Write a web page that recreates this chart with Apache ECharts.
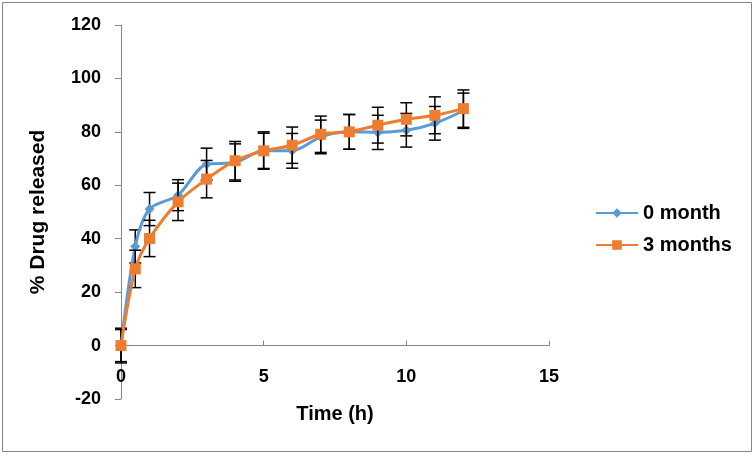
<!DOCTYPE html>
<html>
<head>
<meta charset="utf-8">
<script src="https://cdn.jsdelivr.net/npm/echarts@6/dist/echarts.min.js"></script>
<style>html,body{margin:0;padding:0;background:#fff}#c{width:755px;height:455px}</style>
</head>
<body>
<div id="c"></div>
<script>
const time = [0, 0.5, 1, 2, 3, 4, 5, 6, 7, 8, 9, 10, 11, 12];
const month0 = [0, 37.1, 51.1, 56.3, 67.9, 68.5, 73.0, 72.9, 78.1, 80.0, 79.8, 80.6, 83.2, 87.9];
const month3 = [0, 28.7, 40.1, 53.8, 62.3, 69.2, 72.9, 75.0, 79.1, 80.0, 82.5, 84.7, 86.2, 88.7];
const err0 = [6.5, 6.2, 6.2, 5.8, 6.0, 7.0, 7.0, 6.5, 6.3, 6.5, 6.4, 6.3, 6.3, 6.6];
const err3 = [6.0, 7.0, 6.8, 7.0, 7.0, 7.2, 6.6, 6.8, 6.8, 6.5, 6.7, 6.2, 6.9, 7.0];
const seriesNames = ['0 month', '3 months'];
const xTicks = [0, 5, 10, 15];
const yTicks = [-20, 0, 20, 40, 60, 80, 100, 120];
const yMin = -20, yMax = 120;

const chart = echarts.init(document.getElementById('c'), null, {renderer: 'canvas'});
const font = '"Liberation Sans", Arial, sans-serif';
const gridTop = 25, gridHeight = 374;
// move the x axis up to y = 0 (Excel-style crossing)
const xOffset = -gridHeight * (0 - yMin) / (yMax - yMin);

function errData(vals, errs) {
  return time.map((t, i) => [t, vals[i] - errs[i], vals[i] + errs[i]]);
}
function errRender(params, api) {
  const x = api.value(0);
  const lo = api.coord([x, api.value(1)]);
  const hi = api.coord([x, api.value(2)]);
  const w = 6;
  const style = {stroke: '#000', lineWidth: 1.5};
  return {
    type: 'group',
    children: [
      {type: 'line', shape: {x1: hi[0], y1: hi[1], x2: lo[0], y2: lo[1]}, style: style},
      {type: 'line', shape: {x1: hi[0] - w, y1: hi[1], x2: hi[0] + w, y2: hi[1]}, style: style},
      {type: 'line', shape: {x1: lo[0] - w, y1: lo[1], x2: lo[0] + w, y2: lo[1]}, style: style}
    ]
  };
}

chart.setOption({
  backgroundColor: '#fff',
  animation: false,
  graphic: [{
    type: 'rect', shape: {x: 2.5, y: 2.5, width: 749, height: 449},
    style: {fill: 'none', stroke: '#868686', lineWidth: 1}, z: -1
  }],
  grid: {left: 121, top: gridTop, width: 428, height: gridHeight, containLabel: false, outerBoundsMode: 'none'},
  legend: {
    orient: 'vertical', left: 590, top: 198, itemGap: 12,
    itemWidth: 42, itemHeight: 12,
    textStyle: {fontFamily: font, fontWeight: 'bold', fontSize: 20, color: '#000'},
    data: seriesNames
  },
  xAxis: {
    type: 'value', min: 0, max: 15, interval: 5,
    position: 'bottom', offset: xOffset,
    name: 'Time (h)', nameLocation: 'middle', nameGap: 59,
    nameTextStyle: {fontFamily: font, fontWeight: 'bold', fontSize: 20, color: '#000'},
    axisLine: {onZero: false, lineStyle: {color: '#868686', width: 1}},
    axisTick: {show: true, inside: true, length: 5, lineStyle: {color: '#868686'}},
    axisLabel: {margin: 22, fontFamily: font, fontWeight: 'bold', fontSize: 18, color: '#000',
      formatter: v => xTicks.includes(v) ? String(v) : ''},
    splitLine: {show: false}
  },
  yAxis: {
    type: 'value', min: yMin, max: yMax, interval: 20,
    name: '% Drug released', nameLocation: 'middle', nameGap: 72,
    nameTextStyle: {fontFamily: font, fontWeight: 'bold', fontSize: 21, color: '#000'},
    axisLine: {show: true, onZero: false, lineStyle: {color: '#868686', width: 1}},
    axisTick: {show: true, inside: false, length: 6, lineStyle: {color: '#868686'}},
    axisLabel: {margin: 20, fontFamily: font, fontWeight: 'bold', fontSize: 18, color: '#000',
      formatter: v => yTicks.includes(v) ? String(v) : ''},
    splitLine: {show: false}
  },
  series: [
    {
      name: 'err0', type: 'custom', renderItem: errRender, data: errData(month0, err0),
      encode: {x: 0, y: [1, 2]}, z: 1, silent: true
    },
    {
      name: seriesNames[0], type: 'line', smooth: 0.3,
      data: time.map((t, i) => [t, month0[i]]),
      symbol: 'diamond', symbolSize: 10,
      lineStyle: {color: '#5B9BD5', width: 3},
      itemStyle: {color: '#5B9BD5'}, z: 2
    },
    {
      name: 'err3', type: 'custom', renderItem: errRender, data: errData(month3, err3),
      encode: {x: 0, y: [1, 2]}, z: 3, silent: true
    },
    {
      name: seriesNames[1], type: 'line', smooth: 0.3,
      data: time.map((t, i) => [t, month3[i]]),
      symbol: 'rect', symbolSize: 11,
      lineStyle: {color: '#ED7D31', width: 3},
      itemStyle: {color: '#ED7D31'}, z: 4
    }
  ]
});
</script>
</body>
</html>
